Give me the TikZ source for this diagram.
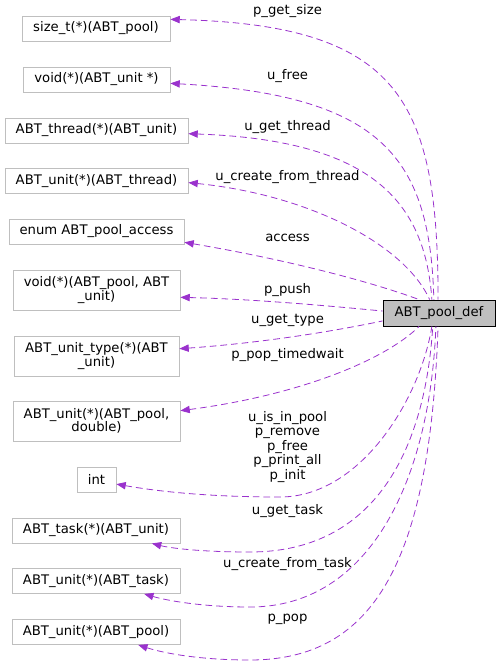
\documentclass[tikz,border=0pt]{standalone}
\usepackage{fontspec}
\setmainfont{DejaVu Sans}
\usetikzlibrary{arrows.meta}
\definecolor{lilla}{HTML}{9A32CD}
\definecolor{bordo}{HTML}{BFBFBF}
\definecolor{grigio}{HTML}{BFBFBF}
\begin{document}
\begin{tikzpicture}[x=0.75pt,y=-0.75pt,
		>={Triangle[length=7pt,width=5.5pt]},
		tipo/.style={draw=bordo, line width=0.6pt, inner sep=0pt,
			minimum height=18.75pt, align=center,
			font=\fontsize{9.9}{10.1}\selectfont},
		doppio/.style={tipo, minimum height=30pt},
		classe/.style={draw=black, fill=grigio, line width=0.6pt, inner sep=0pt,
			minimum width=84pt, minimum height=19.5pt,
			font=\fontsize{9.9}{10.1}\selectfont},
		campo/.style={inner sep=0pt, align=center,
			font=\fontsize{9.9}{10.9}\selectfont},
		arco/.style={<-, lilla, line width=0.6pt, dash pattern=on 5pt off 3pt},
		]
		\useasboundingbox (0,0) rectangle (500,666);
		% ── tipi dei membri ──
		\node[tipo, minimum width=111pt]     (b1)  at (96,28.5)   {size\_t(*)(ABT\_pool)};
		\node[tipo, minimum width=110.25pt]  (b2)  at (96.5,79.5) {void(*)(ABT\_unit *)};
		\node[tipo, minimum width=137.25pt]  (b3)  at (96.5,130.5){ABT\_thread(*)(ABT\_unit)};
		\node[tipo, minimum width=137.25pt]  (b4)  at (96.5,181)  {ABT\_unit(*)(ABT\_thread)};
		\node[tipo, minimum width=131.25pt]  (b5)  at (96.5,231.5){enum ABT\_pool\_access};
		\node[doppio, minimum width=125.25pt](b6)  at (96.5,290)  {void(*)(ABT\_pool, ABT\\\_unit)};
		\node[doppio, minimum width=123.75pt](b7)  at (96.5,356)  {ABT\_unit\_type(*)(ABT\\\_unit)};
		\node[doppio, minimum width=125.25pt](b8)  at (96.5,421)  {ABT\_unit(*)(ABT\_pool,\\double)};
		\node[tipo, minimum width=29.25pt]   (b9)  at (96.5,479.5){int};
		\node[tipo, minimum width=126pt]     (b10) at (96,530.5)  {ABT\_task(*)(ABT\_unit)};
		\node[tipo, minimum width=126pt]     (b11) at (96,581)    {ABT\_unit(*)(ABT\_task)};
		\node[tipo, minimum width=126pt]     (b12) at (96,632)    {ABT\_unit(*)(ABT\_pool)};
		% ── struttura ──
		\node[classe] (def) at (439,313) {ABT\_pool\_def};
		% ── collegamenti ──
		\draw[arco] (b1.7)   .. controls (400,25)  and (438,100) .. (def.94);
		\draw[arco] (b2.-3)  .. controls (385,95)  and (430,160) .. (def.111);
		\draw[arco] (b3.-2)  .. controls (370,140) and (425,200) .. (def.118);
		\draw[arco] (b4.-1)  .. controls (310,195) and (405,245) .. (def.125);
		\draw[arco] (b5.-7)  .. controls (300,262) and (380,285) .. (def.146);
		\draw[arco] (b6.-5)  .. controls (250,299) and (320,305) .. (def.178);
		\draw[arco] (b7.5)   .. controls (260,343) and (330,332) .. (def.-172);
		\draw[arco] (b8.7)   .. controls (300,395) and (385,360) .. (def.-146);
		\draw[arco] (b9.-13) .. controls (150,490) and (200,497) .. (280,497)
			.. controls (360,497) and (420,400) .. (def.-118);
		\draw[arco] (b10.-13) .. controls (170,548) and (200,552) .. (250,552)
			.. controls (375,552) and (425,450) .. (def.-115);
		\draw[arco] (b11.-15) .. controls (165,600) and (200,607) .. (250,607)
			.. controls (370,607) and (430,480) .. (def.-103);
		\draw[arco] (b12.-17) .. controls (160,652) and (195,660) .. (250,660)
			.. controls (375,660) and (430,560) .. (def.-94);
		% ── nomi dei membri ──
		\node[campo] (l1)  at (287.5,11)  {p\_get\_size};
		\node[campo] (l2)  at (287.5,76)  {u\_free};
		\node[campo] (l3)  at (287.5,127) {u\_get\_thread};
		\node[campo] (l4)  at (287.5,177) {u\_create\_from\_thread};
		\node[campo] (l5)  at (287.5,238) {access};
		\node[campo] (l6)  at (287.5,290) {p\_push};
		\node[campo] (l7)  at (287.5,320) {u\_get\_type};
		\node[campo] (l8)  at (287.5,355.5) {p\_pop\_timedwait};
		\node[campo] (l9)  at (287.5,447) {u\_is\_in\_pool\\p\_remove\\p\_free\\p\_print\_all\\p\_init};
		\node[campo] (l10) at (287.5,511) {u\_get\_task};
		\node[campo] (l11) at (287.5,564) {u\_create\_from\_task};
		\node[campo] (l12) at (287.5,619) {p\_pop};
\end{tikzpicture}
\end{document}
